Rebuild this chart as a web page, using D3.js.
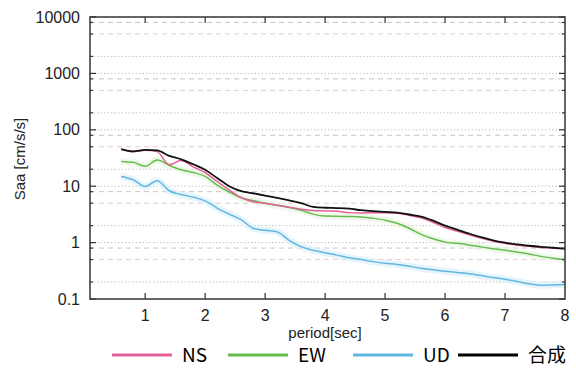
<!DOCTYPE html>
<html>
<head>
<meta charset="utf-8">
<script src="https://cdn.jsdelivr.net/npm/d3@7"></script>
<style>
  body { margin: 0; background: #fff; }
  svg { display: block; }
</style>
</head>
<body>
<svg id="chart"></svg>
<script>
const width = 576;
const height = 370;
const margin = { top: 17, right: 11, bottom: 71, left: 90 };

// periods [sec]
const periods = [0.6, 0.8, 1.0, 1.2, 1.4, 1.6, 1.8, 2.0, 2.2, 2.4, 2.6, 2.8, 3.0, 3.2, 3.4, 3.6, 3.8, 4.0, 4.2,
  4.4, 4.6, 4.8, 5.0, 5.2, 5.4, 5.6, 5.8, 6.0, 6.2, 6.4, 6.6, 6.8, 7.0, 7.2, 7.4, 7.6, 7.8, 8.0];

// Saa [cm/s/s]
const ns = [45, 41, 43.5, 41, 24, 28.5, 22, 17.5, 12.2, 8.6, 6.3, 5.3, 5.0, 4.6, 4.25, 3.9, 3.7, 3.65, 3.6,
  3.4, 3.35, 3.4, 3.4, 3.3, 3.05, 2.75, 2.3, 1.85, 1.6, 1.38, 1.2, 1.06, 0.97, 0.9, 0.86, 0.82, 0.8, 0.77];
const ew = [27.5, 26.5, 22.5, 29, 23.5, 19.5, 17.5, 14.9, 10.5, 7.9, 6.2, 5.6, 5.0, 4.6, 4.2, 3.75, 3.2, 2.95, 2.92,
  2.9, 2.85, 2.7, 2.5, 2.2, 1.8, 1.4, 1.17, 1.02, 0.97, 0.91, 0.84, 0.78, 0.73, 0.68, 0.63, 0.57, 0.53, 0.5];
const ud = [14.9, 13, 9.9, 12.5, 8.3, 7.1, 6.4, 5.5, 4.1, 3.2, 2.55, 1.8, 1.65, 1.55, 1.1, 0.85, 0.73, 0.66, 0.6,
  0.54, 0.5, 0.46, 0.43, 0.41, 0.38, 0.35, 0.33, 0.31, 0.295, 0.28, 0.26, 0.24, 0.225, 0.205, 0.187, 0.175, 0.178, 0.18];
const total = [45.5, 41.5, 44, 43, 34.5, 30, 24.5, 19.6, 14, 10, 8.2, 7.5, 6.8, 6.2, 5.6, 5.0, 4.3, 4.15, 4.1,
  4.0, 3.75, 3.6, 3.5, 3.4, 3.15, 2.9, 2.45, 2.0, 1.7, 1.45, 1.25, 1.1, 1.0, 0.93, 0.88, 0.84, 0.81, 0.78];

const xTicks = [1, 2, 3, 4, 5, 6, 7, 8];
const yTicks = [0.1, 1, 10, 100, 1000, 10000];
const yLabels = ["0.1", "1", "10", "100", "1000", "10000"];
const gridMult = [1, 2, 5, 8];

const series = [
  { name: "UD", values: ud, color: "#62b6e2", halo: "#d6eef8" },
  { name: "EW", values: ew, color: "#66bd4f", halo: "#e6f4de" },
  { name: "NS", values: ns, color: "#e2609a", halo: null },
  { name: "合成", values: total, color: "#111111", halo: null }
];
const legendOrder = ["NS", "EW", "UD", "合成"];

const svg = d3.select("#chart").attr("width", width).attr("height", height);

const x = d3.scaleLinear()
  .domain([0.08, 8])
  .range([margin.left, width - margin.right]);

const y = d3.scaleLog()
  .domain([0.1, 10000])
  .range([height - margin.bottom, margin.top]);

// grid lines at 1, 2, 5, 8 x 10^n
const gridVals = [];
yTicks.forEach(t => gridMult.forEach(m => {
  const v = t * m;
  if (v >= 0.1 && v <= 10000) gridVals.push({ v, m });
}));

svg.append("g")
  .selectAll("line")
  .data(gridVals.filter(d => d.v > 0.1 && d.v < 10000))
  .join("line")
  .attr("x1", x.range()[0])
  .attr("x2", x.range()[1])
  .attr("y1", d => y(d.v))
  .attr("y2", d => y(d.v))
  .attr("stroke", d => d.m === 5 ? "#e6caca" : "#c6c6c6")
  .attr("stroke-width", 1)
  .attr("stroke-dasharray", d => (d.m === 5 || d.m === 8) ? "5,4" : "1.5,2");

// lines
const line = d3.line()
  .x((d, i) => x(periods[i]))
  .y(d => y(d))
  .curve(d3.curveMonotoneX);

series.forEach(s => {
  if (s.halo) {
    svg.append("path")
      .datum(s.values)
      .attr("fill", "none")
      .attr("stroke", s.halo)
      .attr("stroke-width", 7)
      .attr("stroke-opacity", 0.6)
      .attr("d", line);
  }
});
series.forEach(s => {
  svg.append("path")
    .datum(s.values)
    .attr("fill", "none")
    .attr("stroke", s.color)
    .attr("stroke-width", s.name === "合成" ? 1.8 : 1.5)
    .attr("d", line);
});

// frame
svg.append("rect")
  .attr("x", x.range()[0])
  .attr("y", y.range()[1])
  .attr("width", x.range()[1] - x.range()[0])
  .attr("height", y.range()[0] - y.range()[1])
  .attr("fill", "none")
  .attr("stroke", "#333")
  .attr("stroke-width", 1.5);

// y ticks (left and right, inward)
const tickG = svg.append("g").attr("stroke", "#333").attr("stroke-width", 1.2);
gridVals.forEach(d => {
  const len = d.m === 1 ? 6 : 3;
  tickG.append("line")
    .attr("x1", x.range()[0]).attr("x2", x.range()[0] + len)
    .attr("y1", y(d.v)).attr("y2", y(d.v));
  tickG.append("line")
    .attr("x1", x.range()[1]).attr("x2", x.range()[1] - len)
    .attr("y1", y(d.v)).attr("y2", y(d.v));
});
// x ticks (bottom and top, inward)
xTicks.filter(t => t < 8).forEach(t => {
  tickG.append("line")
    .attr("x1", x(t)).attr("x2", x(t))
    .attr("y1", y.range()[0]).attr("y2", y.range()[0] - 6);
  tickG.append("line")
    .attr("x1", x(t)).attr("x2", x(t))
    .attr("y1", y.range()[1]).attr("y2", y.range()[1] + 6);
});

// tick labels
svg.append("g")
  .selectAll("text")
  .data(yTicks)
  .join("text")
  .attr("x", margin.left - 10)
  .attr("y", d => y(d))
  .attr("dy", "0.35em")
  .attr("text-anchor", "end")
  .attr("font-family", "Liberation Sans, Arial, sans-serif")
  .attr("font-size", 16)
  .attr("fill", "#222")
  .text((d, i) => yLabels[i]);

svg.append("g")
  .selectAll("text")
  .data(xTicks)
  .join("text")
  .attr("x", d => x(d))
  .attr("y", y.range()[0] + 22)
  .attr("text-anchor", "middle")
  .attr("font-family", "Liberation Sans, Arial, sans-serif")
  .attr("font-size", 16)
  .attr("fill", "#222")
  .text(d => d);

// axis titles
svg.append("text")
  .attr("x", 325)
  .attr("y", 338)
  .attr("text-anchor", "middle")
  .attr("font-family", "Liberation Sans, Arial, sans-serif")
  .attr("font-size", 15)
  .attr("fill", "#222")
  .text("period[sec]");

svg.append("text")
  .attr("transform", "translate(25,159) rotate(-90)")
  .attr("text-anchor", "middle")
  .attr("font-family", "Liberation Sans, Arial, sans-serif")
  .attr("font-size", 15)
  .attr("fill", "#222")
  .text("Saa [cm/s/s]");

// legend
const legendX = [112, 228, 353, 458];
const legend = svg.append("g");
legendOrder.forEach((name, i) => {
  const s = series.find(d => d.name === name);
  legend.append("line")
    .attr("x1", legendX[i]).attr("x2", legendX[i] + 60)
    .attr("y1", 355).attr("y2", 355)
    .attr("stroke", s.color === "#111111" ? "#000" : s.color)
    .attr("stroke-width", 3);
  legend.append("text")
    .attr("x", legendX[i] + 70)
    .attr("y", 355)
    .attr("dy", "0.36em")
    .attr("font-family", "Noto Sans CJK JP, Noto Sans, sans-serif")
    .attr("font-size", 19)
    .attr("fill", "#000")
    .text(name);
});
</script>
</body>
</html>
